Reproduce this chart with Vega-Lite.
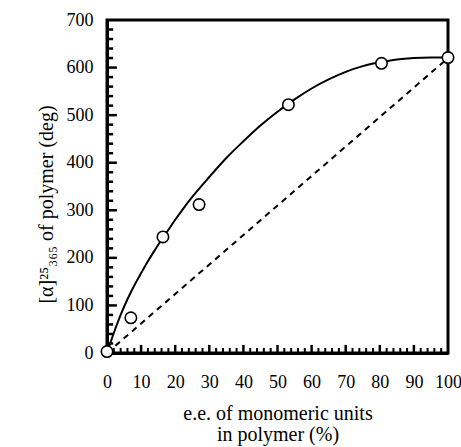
{
  "$schema": "https://vega.github.io/schema/vega-lite/v6.json",
  "autosize": "none",
  "width": 341,
  "height": 333,
  "padding": {"left": 107, "top": 20, "right": 13, "bottom": 94},
  "background": "white",
  "config": {
    "view": {"stroke": "black", "strokeWidth": 3},
    "font": "Liberation Serif, serif",
    "axis": {"labelFont": "Liberation Serif, serif", "titleFont": "Liberation Serif, serif", "labelColor": "black", "titleColor": "black", "domainColor": "black", "grid": false, "titleFontWeight": "normal"}
  },
  "datasets": {
    "curve": [
      {"x": 0, "y": 0}, {"x": 2, "y": 42}, {"x": 4, "y": 80}, {"x": 6, "y": 113}, {"x": 8, "y": 142},
      {"x": 10, "y": 168}, {"x": 12, "y": 193}, {"x": 14, "y": 216}, {"x": 16, "y": 238}, {"x": 18, "y": 259},
      {"x": 20, "y": 280}, {"x": 22, "y": 300}, {"x": 25, "y": 328}, {"x": 30, "y": 370}, {"x": 35, "y": 410},
      {"x": 40, "y": 445}, {"x": 45, "y": 478}, {"x": 50, "y": 507}, {"x": 55, "y": 533}, {"x": 60, "y": 556},
      {"x": 65, "y": 575}, {"x": 70, "y": 591}, {"x": 75, "y": 603}, {"x": 80, "y": 611}, {"x": 85, "y": 617},
      {"x": 90, "y": 620}, {"x": 95, "y": 621}, {"x": 100, "y": 621}
    ],
    "diag": [{"x": 0, "y": 0}, {"x": 100, "y": 620}],
    "pts": [
      {"x": 0, "y": 3}, {"x": 7, "y": 74}, {"x": 16.4, "y": 244}, {"x": 27, "y": 312},
      {"x": 53.2, "y": 522}, {"x": 80.5, "y": 609}, {"x": 100, "y": 621}
    ],
    "xmajor": [{"v": 10}, {"v": 20}, {"v": 30}, {"v": 40}, {"v": 50}, {"v": 60}, {"v": 70}, {"v": 80}, {"v": 90}],
    "xminor": [{"v": 2}, {"v": 4}, {"v": 6}, {"v": 8}, {"v": 12}, {"v": 14}, {"v": 16}, {"v": 18}, {"v": 22}, {"v": 24}, {"v": 26}, {"v": 28}, {"v": 32}, {"v": 34}, {"v": 36}, {"v": 38}, {"v": 42}, {"v": 44}, {"v": 46}, {"v": 48}, {"v": 52}, {"v": 54}, {"v": 56}, {"v": 58}, {"v": 62}, {"v": 64}, {"v": 66}, {"v": 68}, {"v": 72}, {"v": 74}, {"v": 76}, {"v": 78}, {"v": 82}, {"v": 84}, {"v": 86}, {"v": 88}, {"v": 92}, {"v": 94}, {"v": 96}, {"v": 98}],
    "ymajor": [{"v": 100}, {"v": 200}, {"v": 300}, {"v": 400}, {"v": 500}, {"v": 600}],
    "yminor": [{"v": 20}, {"v": 40}, {"v": 60}, {"v": 80}, {"v": 120}, {"v": 140}, {"v": 160}, {"v": 180}, {"v": 220}, {"v": 240}, {"v": 260}, {"v": 280}, {"v": 320}, {"v": 340}, {"v": 360}, {"v": 380}, {"v": 420}, {"v": 440}, {"v": 460}, {"v": 480}, {"v": 520}, {"v": 540}, {"v": 560}, {"v": 580}, {"v": 620}, {"v": 640}, {"v": 660}, {"v": 680}]
  },
  "layer": [
    {
      "data": {"name": "curve"},
      "mark": {"type": "line", "color": "black", "strokeWidth": 2, "interpolate": "monotone"},
      "encoding": {
        "x": {"field": "x", "type": "quantitative", "scale": {"domain": [0, 100], "nice": false},
          "axis": {"orient": "bottom", "values": [0,10,20,30,40,50,60,70,80,90,100], "ticks": false, "labelPadding": 20, "labelFontSize": 18, "domainWidth": 3,
            "title": ["e.e. of monomeric units", "in polymer (%)"], "titleFontSize": 20, "titlePadding": 12, "titleLineHeight": 21, "labelFlush": false}},
        "y": {"field": "y", "type": "quantitative", "scale": {"domain": [0, 700], "nice": false},
          "axis": {"orient": "left", "values": [0,100,200,300,400,500,600,700], "ticks": false, "labelPadding": 14, "labelFontSize": 18, "domainWidth": 3,
            "title": "[α]²⁵₃₆₅ of polymer (deg)", "titleFontSize": 20, "titlePadding": 10, "titleY": 184, "labelFlush": false}}
      }
    },
    {
      "data": {"name": "diag"},
      "mark": {"type": "line", "color": "black", "strokeWidth": 2, "strokeDash": [6, 5]},
      "encoding": {
        "x": {"field": "x", "type": "quantitative", "axis": null},
        "y": {"field": "y", "type": "quantitative", "axis": null}
      }
    },
    {
      "data": {"name": "xmajor"},
      "mark": {"type": "rule", "color": "black", "strokeWidth": 2.5},
      "encoding": {
        "x": {"field": "v", "type": "quantitative", "axis": null},
        "y": {"datum": 0, "type": "quantitative", "axis": null},
        "y2": {"datum": 17}
      }
    },
    {
      "data": {"name": "xminor"},
      "mark": {"type": "rule", "color": "black", "strokeWidth": 2},
      "encoding": {
        "x": {"field": "v", "type": "quantitative", "axis": null},
        "y": {"datum": 0, "type": "quantitative", "axis": null},
        "y2": {"datum": 10.5}
      }
    },
    {
      "data": {"name": "ymajor"},
      "mark": {"type": "rect", "color": "black", "height": 2.5},
      "encoding": {
        "y": {"field": "v", "type": "quantitative", "axis": null},
        "x": {"datum": 0, "type": "quantitative", "axis": null},
        "x2": {"datum": 2.9}
      }
    },
    {
      "data": {"name": "yminor"},
      "mark": {"type": "rect", "color": "black", "height": 2.5},
      "encoding": {
        "y": {"field": "v", "type": "quantitative", "axis": null},
        "x": {"datum": 0, "type": "quantitative", "axis": null},
        "x2": {"datum": 1.8}
      }
    },
    {
      "data": {"name": "pts"},
      "mark": {"type": "point", "shape": "circle", "filled": true, "fill": "white", "stroke": "black", "strokeWidth": 1.6, "size": 130, "opacity": 1},
      "encoding": {
        "x": {"field": "x", "type": "quantitative", "axis": null},
        "y": {"field": "y", "type": "quantitative", "axis": null}
      }
    }
  ],
  "resolve": {"axis": {"x": "independent", "y": "independent"}}
}
